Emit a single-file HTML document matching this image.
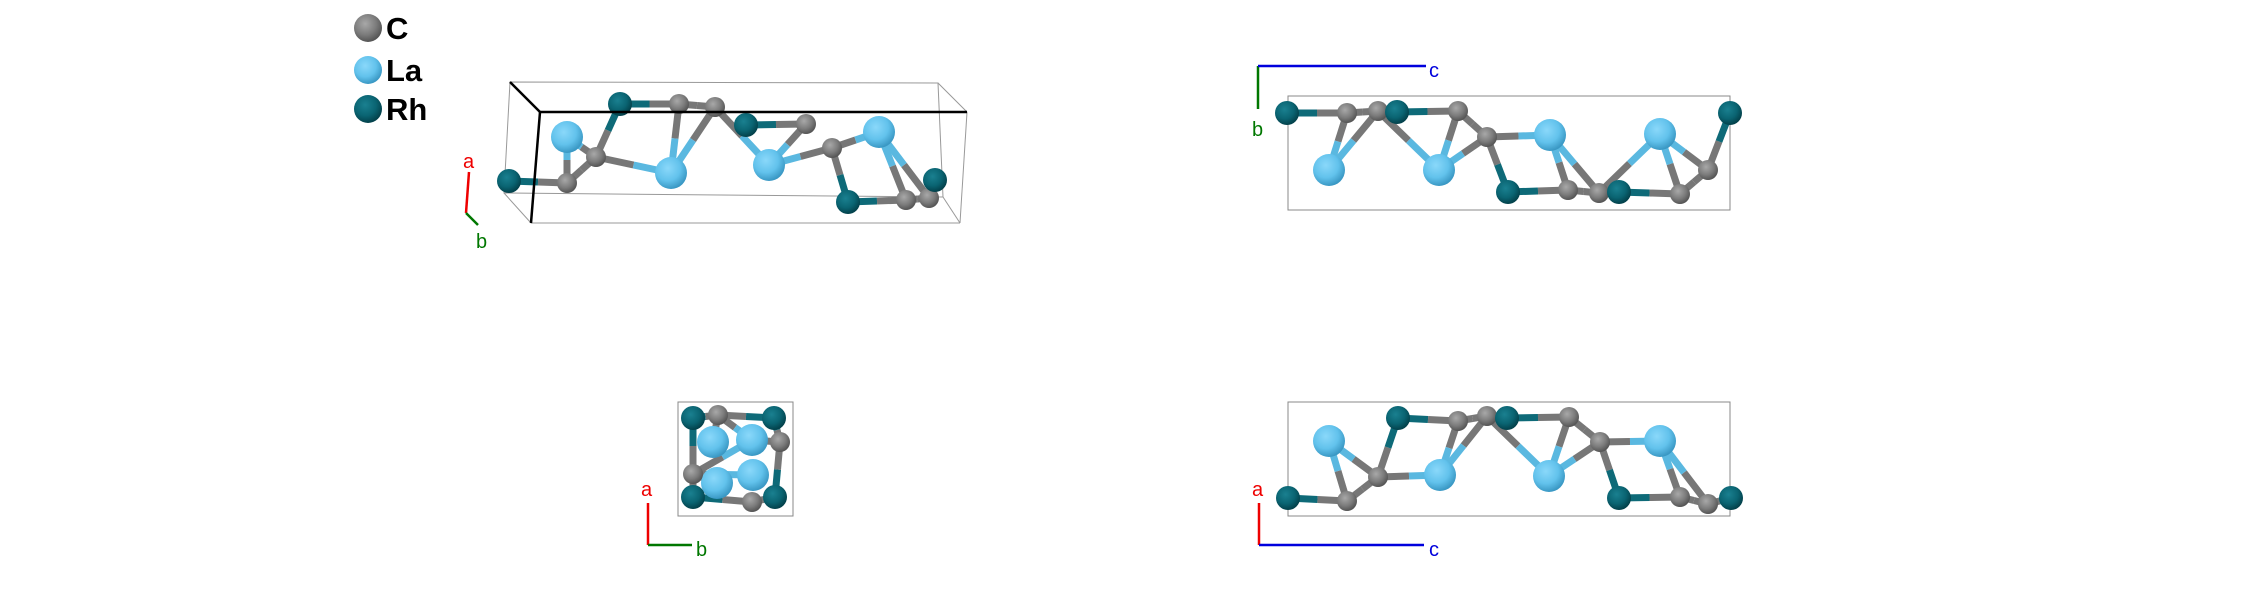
<!DOCTYPE html>
<html><head><meta charset="utf-8">
<style>
html,body{margin:0;padding:0;background:#fff;}
svg{display:block;}
text{font-family:"Liberation Sans","DejaVu Sans",sans-serif;}
</style></head>
<body>
<svg id="s" width="2244" height="612" viewBox="0 0 2244 612" xmlns="http://www.w3.org/2000/svg">
<defs>
<radialGradient id="gC" cx="40%" cy="35%" r="65%"><stop offset="0" stop-color="#a8a8a8"/><stop offset="0.6" stop-color="#7c7c7c"/><stop offset="1" stop-color="#555"/></radialGradient>
<radialGradient id="gLa" cx="40%" cy="35%" r="65%"><stop offset="0" stop-color="#8ad8fa"/><stop offset="0.6" stop-color="#62c2ec"/><stop offset="1" stop-color="#3a98c4"/></radialGradient>
<radialGradient id="gRh" cx="40%" cy="35%" r="65%"><stop offset="0" stop-color="#1a8090"/><stop offset="0.6" stop-color="#0a6472"/><stop offset="1" stop-color="#03414b"/></radialGradient>
</defs>
<!-- legend -->
<circle cx="368" cy="28" r="14" fill="url(#gC)"/>
<circle cx="368" cy="70" r="14" fill="url(#gLa)"/>
<circle cx="368" cy="109" r="14" fill="url(#gRh)"/>
<text x="386" y="39" font-size="31" font-weight="bold" fill="#000">C</text>
<text x="386" y="81" font-size="31" font-weight="bold" fill="#000">La</text>
<text x="386" y="120" font-size="31" font-weight="bold" fill="#000">Rh</text>

<!-- panel 1 box back -->
<g stroke="#999" stroke-width="1" fill="none">
<polygon points="510,82 938,83 943,197 504,193"/>
<line x1="938" y1="83" x2="967" y2="112"/>
<line x1="943" y1="197" x2="960" y2="223"/>
<line x1="504" y1="193" x2="531" y2="223"/>
<line x1="967" y1="112" x2="960" y2="223"/>
<line x1="531" y1="223" x2="960" y2="223"/>
</g>
<g id="p1"></g>
<g stroke="#000" stroke-width="2.5" fill="none">
<line x1="510" y1="82" x2="540" y2="112"/>
<line x1="540" y1="112" x2="967" y2="112"/>
<line x1="540" y1="112" x2="531" y2="223"/>
</g>
<line x1="469" y1="172" x2="466" y2="213" stroke="#e00" stroke-width="2.5"/>
<line x1="466" y1="213" x2="478" y2="225" stroke="#070" stroke-width="2.5"/>
<text x="463" y="168" font-size="20" fill="#e00">a</text>
<text x="476" y="248" font-size="20" fill="#070">b</text>

<!-- panel 2 -->
<rect x="1288" y="96" width="442" height="114" fill="none" stroke="#888" stroke-width="1"/>
<line x1="1258" y1="66" x2="1258" y2="109" stroke="#070" stroke-width="2.5"/>
<line x1="1258" y1="66" x2="1426" y2="66" stroke="#00d" stroke-width="2.5"/>
<text x="1429" y="77" font-size="20" fill="#00d">c</text>
<text x="1252" y="136" font-size="20" fill="#070">b</text>

<!-- panel 3 -->
<rect x="678" y="402" width="115" height="114" fill="none" stroke="#888" stroke-width="1"/>
<line x1="648" y1="503" x2="648" y2="545" stroke="#e00" stroke-width="2.5"/>
<line x1="648" y1="545" x2="692" y2="545" stroke="#070" stroke-width="2.5"/>
<text x="641" y="496" font-size="20" fill="#e00">a</text>
<text x="696" y="556" font-size="20" fill="#070">b</text>

<!-- panel 4 -->
<rect x="1288" y="402" width="442" height="114" fill="none" stroke="#888" stroke-width="1"/>
<line x1="1259" y1="503" x2="1259" y2="545" stroke="#e00" stroke-width="2.5"/>
<line x1="1259" y1="545" x2="1424" y2="545" stroke="#00d" stroke-width="2.5"/>
<text x="1252" y="496" font-size="20" fill="#e00">a</text>
<text x="1429" y="556" font-size="20" fill="#00d">c</text>
<g id="p2"></g><g id="p3"></g><g id="p4"></g>
</svg>
<script>
var NS="http://www.w3.org/2000/svg";
var R={C:10,La:16,Rh:12},BC={C:"#777",La:"#5ab8e0",Rh:"#0e6a78"};
function draw(id,atoms,bonds){
  var g=document.getElementById(id);
  bonds.forEach(function(b){
    var a=atoms[b[0]],c=atoms[b[1]];
    var mx=(a[1]+c[1])/2,my=(a[2]+c[2])/2;
    [[a,mx,my],[c,mx,my]].forEach(function(h){
      var l=document.createElementNS(NS,"line");
      l.setAttribute("x1",h[0][1]);l.setAttribute("y1",h[0][2]);
      l.setAttribute("x2",h[1]);l.setAttribute("y2",h[2]);
      l.setAttribute("stroke",BC[h[0][0]]);l.setAttribute("stroke-width","7");
      g.appendChild(l);
    });
  });
  atoms.forEach(function(a){
    var c=document.createElementNS(NS,"circle");
    c.setAttribute("cx",a[1]);c.setAttribute("cy",a[2]);c.setAttribute("r",R[a[0]]);
    c.setAttribute("fill","url(#g"+a[0]+")");g.appendChild(c);
  });
}
draw("p1",[
["Rh",509,181],["C",567,183],["La",567,137],["C",596,157],["Rh",620,104],
["La",671,173],["C",679,104],["C",715,107],["Rh",746,125],["C",806,124],
["La",769,165],["C",832,148],["La",879,132],["Rh",848,202],["C",906,200],["C",929,198],["Rh",935,180]
],[[0,1],[1,2],[1,3],[3,2],[3,4],[3,5],[4,6],[6,7],[6,5],[7,5],[7,10],[8,9],[9,10],[10,11],[11,12],[11,13],[13,14],[14,12],[15,12],[15,16],[14,15]]);
draw("p2",[
["Rh",1287,113],["C",1347,113],["C",1378,111],["Rh",1397,112],["C",1458,111],
["C",1487,137],["La",1550,135],["La",1329,170],["La",1439,170],["Rh",1508,192],
["C",1568,190],["C",1599,193],["Rh",1619,192],["C",1680,194],["C",1708,170],["La",1660,134],["Rh",1730,113]
],[[0,1],[1,2],[1,7],[2,7],[2,8],[3,4],[4,8],[4,5],[5,8],[5,6],[5,9],[9,10],[10,6],[11,6],[10,11],[11,15],[12,13],[13,15],[14,15],[14,16],[13,14]]);
draw("p3",[
["La",713,442],["La",717,483],["C",718,415],["Rh",693,418],["Rh",774,418],["C",693,474],
["C",780,442],["La",752,440],["La",753,475],["Rh",693,497],["C",752,502],["Rh",775,497]
],[[3,2],[2,4],[3,5],[5,9],[9,10],[10,11],[11,6],[6,4],[2,7],[5,7],[5,8],[2,0],[6,7],[5,1]]);
draw("p4",[
["Rh",1288,498],["C",1347,501],["C",1378,477],["La",1329,441],["Rh",1398,418],
["C",1458,421],["C",1487,416],["Rh",1507,418],["C",1569,417],["La",1440,475],
["La",1549,476],["C",1600,442],["La",1660,441],["Rh",1619,498],["C",1680,497],["C",1708,504],["Rh",1731,498]
],[[0,1],[1,2],[1,3],[2,3],[2,4],[2,9],[4,5],[5,9],[6,9],[5,6],[6,10],[7,8],[8,10],[11,10],[8,11],[11,12],[11,13],[13,14],[14,12],[15,12],[15,16],[14,15]]);
</script>
</body></html>
